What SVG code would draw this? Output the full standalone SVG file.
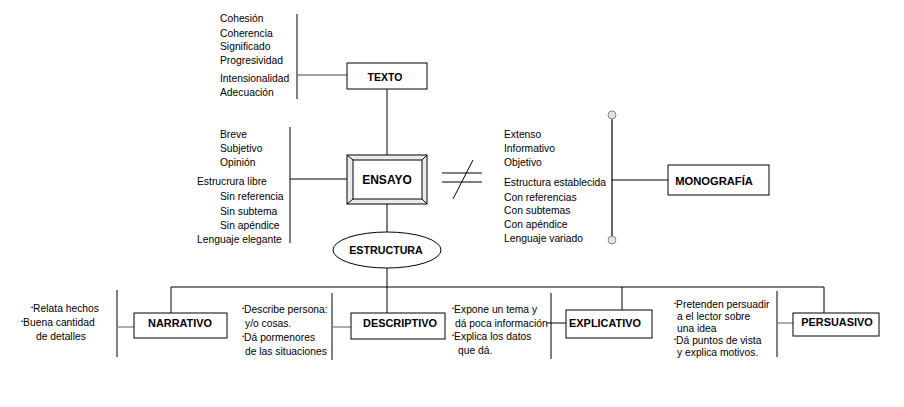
<svg xmlns="http://www.w3.org/2000/svg" width="904" height="407" viewBox="0 0 904 407">
<style>
.t{font-family:"Liberation Sans",Arial,sans-serif;font-size:10.3px;fill:#000}
.b{font-family:"Liberation Sans",Arial,sans-serif;font-weight:bold;fill:#000;text-anchor:middle}
.box{fill:#fff;stroke:#000;stroke-width:1}
.ln{stroke:#000;stroke-width:1;fill:none}
.gl{stroke:#808080;stroke-width:1.3;fill:none}
.bu{font-size:6px}
</style>
<rect width="904" height="407" fill="#fff"/>
<g id="connectors">
<line class="ln" x1="297" y1="14" x2="297" y2="99"/>
<line class="gl" x1="297" y1="75" x2="347" y2="75"/>
<line class="ln" x1="387" y1="89" x2="387" y2="155"/>
<line class="ln" x1="290" y1="127" x2="290" y2="243"/>
<line class="ln" x1="290" y1="179" x2="347" y2="179"/>
<line class="ln" x1="387" y1="204" x2="387" y2="232"/>
<line class="ln" x1="387" y1="268" x2="387" y2="313"/>
<line class="ln" x1="442" y1="173" x2="482" y2="173"/>
<line class="ln" x1="442" y1="182" x2="482" y2="182"/>
<line class="ln" x1="453" y1="199" x2="473" y2="160"/>
<line x1="612" y1="119" x2="612" y2="236" stroke="#555" stroke-width="1.8"/>
<circle cx="612" cy="115" r="4" fill="#d8e6ee" stroke="#8a8a8a" stroke-width="1"/>
<circle cx="612" cy="240" r="4" fill="#d8e6ee" stroke="#8a8a8a" stroke-width="1"/>
<line class="ln" x1="612" y1="180" x2="668" y2="180"/>
<polyline class="ln" points="171,313 171,287 824,287 824,313"/>
<line class="ln" x1="622" y1="287" x2="622" y2="310"/>
<line class="ln" x1="117" y1="290" x2="117" y2="357"/>
<line class="gl" x1="117" y1="327" x2="134" y2="327"/>
<line class="ln" x1="332" y1="293" x2="332" y2="360"/>
<line class="gl" x1="332" y1="327" x2="351" y2="327"/>
<line class="ln" x1="551" y1="293" x2="551" y2="359"/>
<line class="ln" x1="547" y1="323" x2="566" y2="323"/>
<line class="ln" x1="777" y1="291" x2="777" y2="357"/>
<line class="gl" x1="777" y1="323" x2="793" y2="323"/>
</g>
<g id="texto">
<rect class="box" x="347" y="63" width="80" height="26"/>
<text class="b" x="385" y="81" font-size="10.5">TEXTO</text>
</g>
<g id="texto-list">
<text class="t" x="220" y="22">Cohesión</text>
<text class="t" x="220" y="37">Coherencia</text>
<text class="t" x="220" y="50">Significado</text>
<text class="t" x="220" y="64">Progresividad</text>
<text class="t" x="220" y="82">Intensionalidad</text>
<text class="t" x="220" y="96">Adecuación</text>
</g>
<g id="ensayo">
<rect x="347" y="155" width="80" height="49" fill="#ececec" stroke="#000" stroke-width="1"/>
<rect x="353" y="160" width="69" height="39" fill="#fff" stroke="#000" stroke-width="1"/>
<line class="ln" x1="347" y1="155" x2="353" y2="160"/>
<line class="ln" x1="427" y1="155" x2="422" y2="160"/>
<line class="ln" x1="347" y1="204" x2="353" y2="199"/>
<line class="ln" x1="427" y1="204" x2="422" y2="199"/>
<text class="b" x="387" y="184" font-size="12">ENSAYO</text>
</g>
<g id="ensayo-list">
<text class="t" x="220" y="138">Breve</text>
<text class="t" x="220" y="152">Subjetivo</text>
<text class="t" x="220" y="166">Opinión</text>
<text class="t" x="197" y="185">Estrucrura libre</text>
<text class="t" x="220" y="200">Sin referencia</text>
<text class="t" x="220" y="215">Sin subtema</text>
<text class="t" x="220" y="229">Sin apéndice</text>
<text class="t" x="197" y="243">Lenguaje elegante</text>
</g>
<g id="monografia-list">
<text class="t" x="504" y="138">Extenso</text>
<text class="t" x="504" y="152">Informativo</text>
<text class="t" x="504" y="166">Objetivo</text>
<text class="t" x="504" y="186">Estructura establecida</text>
<text class="t" x="504" y="201">Con referencias</text>
<text class="t" x="504" y="214">Con subtemas</text>
<text class="t" x="504" y="228">Con apéndice</text>
<text class="t" x="504" y="242">Lenguaje variado</text>
</g>
<g id="monografia">
<rect class="box" x="668" y="165" width="101" height="30"/>
<text class="b" x="714" y="185" font-size="11.2">MONOGRAFÍA</text>
</g>
<g id="estructura">
<ellipse cx="387" cy="250" rx="54" ry="18" fill="#fff" stroke="#000" stroke-width="1"/>
<text class="b" x="386" y="254" font-size="10.7">ESTRUCTURA</text>
</g>
<g id="narrativo">
<rect class="box" x="134" y="313" width="93" height="25"/>
<text class="b" x="180" y="327" font-size="10.9">NARRATIVO</text>
</g>
<g id="narrativo-text">
<text class="t" x="31" y="312"><tspan class="bu" dy="-3">•</tspan><tspan dy="3">Relata hechos</tspan></text>
<text class="t" x="21" y="326"><tspan class="bu" dy="-3">•</tspan><tspan dy="3">Buena cantidad</tspan></text>
<text class="t" x="36" y="340">de detalles</text>
</g>
<g id="descriptivo">
<rect class="box" x="351" y="313" width="94" height="26"/>
<text class="b" x="400" y="327" font-size="10.9">DESCRIPTIVO</text>
</g>
<g id="descriptivo-text">
<text class="t" x="242" y="313"><tspan class="bu" dy="-3">•</tspan><tspan dy="3">Describe persona:</tspan></text>
<text class="t" x="245" y="327">y/o cosas.</text>
<text class="t" x="242" y="341"><tspan class="bu" dy="-3">•</tspan><tspan dy="3">Dá pormenores</tspan></text>
<text class="t" x="245" y="355">de las situaciones</text>
</g>
<g id="explicativo">
<rect class="box" x="566" y="310" width="86" height="28"/>
<text class="b" x="605" y="327" font-size="10.9">EXPLICATIVO</text>
</g>
<g id="explicativo-text">
<text class="t" x="452" y="313"><tspan class="bu" dy="-3">•</tspan><tspan dy="3">Expone un tema y</tspan></text>
<text class="t" x="455" y="327">dá poca información</text>
<text class="t" x="452" y="340"><tspan class="bu" dy="-3">•</tspan><tspan dy="3">Explica los datos</tspan></text>
<text class="t" x="458" y="354">que dá.</text>
</g>
<g id="persuasivo">
<rect class="box" x="793" y="313" width="86" height="23"/>
<text class="b" x="837" y="326" font-size="10.9">PERSUASIVO</text>
</g>
<g id="persuasivo-text">
<text class="t" x="674" y="308"><tspan class="bu" dy="-3">•</tspan><tspan dy="3">Pretenden persuadir</tspan></text>
<text class="t" x="677" y="320">a el lector sobre</text>
<text class="t" x="677" y="332">una idea</text>
<text class="t" x="674" y="344"><tspan class="bu" dy="-3">•</tspan><tspan dy="3">Dá puntos de vista</tspan></text>
<text class="t" x="677" y="356">y explica motivos.</text>
</g>
</svg>
